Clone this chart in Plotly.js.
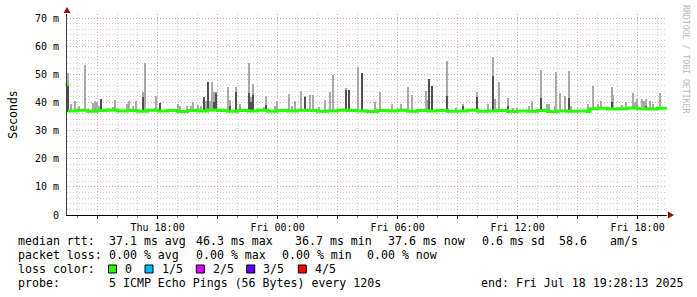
<!DOCTYPE html>
<html><head><meta charset="utf-8">
<script src="https://cdn.plot.ly/plotly-3.0.1.min.js"></script>
<style>html,body{margin:0;padding:0;background:#fff;}#chart{width:697px;height:297px;}</style>
</head><body><div id="chart"></div>
<script>
// ---- data (ms) ----
const medianTimes = [
 "2025-07-17 13:28:13","2025-07-17 13:31","2025-07-17 14:00","2025-07-17 14:30","2025-07-17 15:00","2025-07-17 15:30",
 "2025-07-17 16:00","2025-07-17 16:30","2025-07-17 17:00","2025-07-17 17:30","2025-07-17 18:00","2025-07-17 18:30",
 "2025-07-17 19:00","2025-07-17 19:30","2025-07-17 20:00","2025-07-17 20:30","2025-07-17 21:00","2025-07-17 21:30",
 "2025-07-17 22:00","2025-07-17 22:30","2025-07-17 23:00","2025-07-17 23:30","2025-07-18 00:00","2025-07-18 00:30",
 "2025-07-18 01:00","2025-07-18 01:30","2025-07-18 02:00","2025-07-18 02:30","2025-07-18 03:00","2025-07-18 03:30",
 "2025-07-18 04:00","2025-07-18 04:30","2025-07-18 05:00","2025-07-18 05:30","2025-07-18 06:00","2025-07-18 06:30",
 "2025-07-18 07:00","2025-07-18 07:30","2025-07-18 08:00","2025-07-18 08:30","2025-07-18 09:00","2025-07-18 09:30",
 "2025-07-18 10:00","2025-07-18 10:30","2025-07-18 11:00","2025-07-18 11:30","2025-07-18 12:00","2025-07-18 12:30",
 "2025-07-18 13:00","2025-07-18 13:30","2025-07-18 14:00","2025-07-18 14:30","2025-07-18 15:00","2025-07-18 15:30",
 "2025-07-18 15:37","2025-07-18 16:00","2025-07-18 16:30","2025-07-18 17:00","2025-07-18 17:30","2025-07-18 18:00",
 "2025-07-18 18:30","2025-07-18 19:00","2025-07-18 19:28:13"];
const medianValues = [
 46.3,37.0,37.2,36.9,37.1,37.3,
 37.0,37.1,36.9,37.2,37.0,37.1,
 36.8,37.1,37.0,37.3,37.1,36.9,
 37.1,37.0,37.2,36.9,37.1,37.0,
 37.2,37.1,36.9,37.0,37.2,37.1,
 37.0,36.8,37.1,37.0,37.2,36.9,
 37.1,37.0,37.1,36.9,37.0,37.2,
 36.9,37.0,37.1,36.8,37.0,36.9,
 37.1,36.8,37.0,36.9,37.0,36.8,
 37.8,37.9,37.7,37.8,38.0,37.8,
 37.7,37.9,37.6];

const spikeTimes = [
 "2025-07-17 13:30","2025-07-17 13:40","2025-07-17 13:52","2025-07-17 14:04","2025-07-17 14:22","2025-07-17 14:27",
 "2025-07-17 14:46","2025-07-17 14:52","2025-07-17 14:58","2025-07-17 15:04","2025-07-17 15:11","2025-07-17 15:34",
 "2025-07-17 15:46","2025-07-17 15:52","2025-07-17 16:28","2025-07-17 16:35","2025-07-17 16:46","2025-07-17 16:55",
 "2025-07-17 17:16","2025-07-17 17:22","2025-07-17 17:55","2025-07-17 18:07","2025-07-17 19:01","2025-07-17 19:07",
 "2025-07-17 19:28","2025-07-17 19:40","2025-07-17 19:46","2025-07-17 20:01","2025-07-17 20:10","2025-07-17 20:19",
 "2025-07-17 20:25","2025-07-17 20:31","2025-07-17 20:37","2025-07-17 20:43","2025-07-17 20:50","2025-07-17 20:55",
 "2025-07-17 21:07","2025-07-17 21:31","2025-07-17 21:37","2025-07-17 21:55","2025-07-17 22:07","2025-07-17 22:34",
 "2025-07-17 22:40","2025-07-17 22:46","2025-07-17 23:19","2025-07-17 23:25","2025-07-17 23:52","2025-07-17 23:58",
 "2025-07-18 00:34","2025-07-18 00:43","2025-07-18 00:52","2025-07-18 01:10","2025-07-18 01:22","2025-07-18 01:37",
 "2025-07-18 01:46","2025-07-18 02:04","2025-07-18 02:22","2025-07-18 02:37","2025-07-18 02:46","2025-07-18 03:25",
 "2025-07-18 03:34","2025-07-18 04:01","2025-07-18 04:13","2025-07-18 04:52","2025-07-18 05:07","2025-07-18 05:43",
 "2025-07-18 06:10","2025-07-18 06:31","2025-07-18 06:43","2025-07-18 07:25","2025-07-18 07:31","2025-07-18 07:35",
 "2025-07-18 07:43","2025-07-18 08:28","2025-07-18 08:55","2025-07-18 09:16","2025-07-18 09:58","2025-07-18 10:31",
 "2025-07-18 10:46","2025-07-18 10:52","2025-07-18 11:04","2025-07-18 11:32","2025-07-18 11:46","2025-07-18 11:58",
 "2025-07-18 12:34","2025-07-18 12:43","2025-07-18 13:10","2025-07-18 13:28","2025-07-18 13:34","2025-07-18 13:52",
 "2025-07-18 13:55","2025-07-18 14:07","2025-07-18 14:22","2025-07-18 14:34","2025-07-18 14:40","2025-07-18 15:32",
 "2025-07-18 15:46","2025-07-18 16:01","2025-07-18 16:10","2025-07-18 16:40","2025-07-18 16:43","2025-07-18 16:47",
 "2025-07-18 17:13","2025-07-18 17:25","2025-07-18 17:46","2025-07-18 17:52","2025-07-18 17:58","2025-07-18 18:13",
 "2025-07-18 18:20","2025-07-18 18:26","2025-07-18 18:37","2025-07-18 18:46","2025-07-18 19:07","2025-07-18 19:14"];
const spikeMax = [
 50.3,39.4,40.5,38.8,53.3,37.8,
 39.9,40.5,40.2,38.8,41.4,37.8,
 38.3,40.9,39.4,40.5,38.8,40.5,
 43.8,53.9,42.4,39.9,39.6,38.9,
 38.8,38.8,40.2,39.0,38.8,42.0,
 40.5,47.3,40.5,47.3,43.8,43.8,
 37.8,45.6,40.9,45.6,39.4,54.1,
 42.0,46.6,38.3,42.2,38.6,40.6,
 42.9,38.8,40.5,44.1,42.2,42.6,
 42.6,38.3,40.9,43.8,49.8,45.3,
 44.6,52.7,50.5,40.2,43.8,39.6,
 39.4,45.6,42.6,44.1,40.9,48.2,
 45.7,54.7,37.9,39.6,43.8,39.4,
 56.3,41.2,47.1,41.6,38.0,38.0,
 38.6,40.6,51.5,39.4,39.6,38.8,
 50.9,43.3,42.2,51.2,38.8,39.6,
 46.0,39.4,40.5,38.5,45.6,42.6,
 39.2,40.2,43.3,40.0,41.1,41.1,
 40.5,41.2,40.5,39.4,43.3,38.3];
const spikeDark = [
 46.3,null,null,null,null,null,
 null,null,null,null,41.4,null,
 null,null,null,null,null,null,
 42.0,null,null,39.9,null,null,
 null,null,null,null,null,42.0,
 null,47.3,null,null,40.0,43.2,
 null,null,38.8,43.8,null,43.5,
 40.2,42.7,null,39.0,null,null,
 null,null,null,null,42.0,null,
 null,null,null,null,null,44.4,
 44.6,null,50.3,null,null,null,
 null,null,null,null,null,48.2,
 45.7,42.2,null,38.8,41.8,null,
 49.5,null,null,38.8,null,null,
 null,null,41.7,null,null,null,
 null,null,null,41.7,null,null,
 null,null,null,null,40.0,null,
 null,null,null,null,null,null,
 null,38.6,null,null,null,null];

const yTickVals = [0,10,20,30,40,50,60,70];
const yTickText = ["0","10 m","20 m","30 m","40 m","50 m","60 m","70 m"];
const xTickVals = ["2025-07-17 15:00","2025-07-17 18:00","2025-07-17 21:00","2025-07-18 00:00","2025-07-18 03:00",
                   "2025-07-18 06:00","2025-07-18 09:00","2025-07-18 12:00","2025-07-18 15:00","2025-07-18 18:00"];
const xTickText = ["","Thu 18:00","","Fri 00:00","","Fri 06:00","","Fri 12:00","","Fri 18:00"];

const lossLabels = ["0","1/5","2/5","3/5","4/5"];
const lossColors = ["#26ff00","#00b8ff","#dd00ff","#5e00ff","#ff0000"];

const legendRow1 = ["median rtt:","37.1 ms avg","46.3 ms max","36.7 ms min","37.6 ms now","0.6 ms sd","58.6","am/s"];
const legendRow2 = ["packet loss:","0.00 % avg","0.00 % max","0.00 % min","0.00 % now"];
const legendRow3Head = "loss color:";
const legendRow4 = ["probe:","5 ICMP Echo Pings (56 Bytes) every 120s","end: Fri Jul 18 19:28:13 2025"];

// ---- geometry ----
const L = 67, T = 14, W = 600, H = 201;
const px = x => (x - L) / W;
const py = y => (T + H - y) / H;
const MONO = "DejaVu Sans Mono";

const toMs = s => Date.parse(s.replace(" ", "T"));
const medMs = medianTimes.map(toMs);
function medianAt(s) {
  const t = toMs(s); let v = medianValues[1];
  for (let i = 1; i < medMs.length; i++) { if (medMs[i] <= t) v = medianValues[i]; }
  return v;
}
const base = spikeTimes.map(s => medianAt(s) - 0.4);

const lightTrace = {
  type: "bar", x: spikeTimes, base: base,
  y: spikeMax.map((v, i) => v - base[i]),
  width: spikeTimes.map(() => 360000),
  marker: {color: "#a9a9a9", line: {width: 0}}, hoverinfo: "skip"
};
const darkIdx = spikeDark.map((v, i) => v === null ? -1 : i).filter(i => i >= 0);
const darkTrace = {
  type: "bar", x: darkIdx.map(i => spikeTimes[i]), base: darkIdx.map(i => base[i]),
  y: darkIdx.map(i => spikeDark[i] - base[i]),
  width: darkIdx.map(() => 360000),
  marker: {color: "#505050", line: {width: 0}}, hoverinfo: "skip"
};
const medianLine = {
  type: "scatter", mode: "lines", x: medianTimes.slice(1), y: medianValues.slice(1),
  line: {color: "#26ff00", width: 3, shape: "hv"}, hoverinfo: "skip"
};
const medianFirst = {
  type: "scatter", mode: "markers", x: [medianTimes[0]], y: [medianValues[0]],
  marker: {color: "#26ff00", size: 3, symbol: "square"}, hoverinfo: "skip", cliponaxis: false
};

// ---- legend annotations ----
const ann = [];
const addText = (text, x, y, opts = {}) => ann.push(Object.assign({
  text: text, xref: "paper", yref: "paper", x: px(x), y: py(y),
  xanchor: "left", yanchor: "middle", showarrow: false,
  font: {family: MONO, size: 11.6, color: "#000"}
}, opts));
const row1X = [16, 107, 194, 293, 385.5, 480, 557, 608];
legendRow1.forEach((t, i) => addText(t, row1X[i], 241));
const row2X = [16, 107, 193.5, 279.5, 365];
legendRow2.forEach((t, i) => addText(t, row2X[i], 255));
addText(legendRow3Head, 16, 269);
const boxX = [108.5, 145, 196.3, 246.7, 298.3];
const shapes = [];
lossLabels.forEach((t, i) => {
  shapes.push({type: "rect", xref: "paper", yref: "paper",
    x0: px(boxX[i]), x1: px(boxX[i] + 8), y0: py(273), y1: py(265),
    fillcolor: lossColors[i], line: {color: "#000", width: 1}});
  addText(t, boxX[i] + 14.5, 269);
});
const row4X = [16, 107, 479];
legendRow4.forEach((t, i) => addText(t, row4X[i], 283));
ann.push({text: "RRDTOOL / TOBI OETIKER", xref: "paper", yref: "paper", x: px(686), y: py(59),
  xanchor: "center", yanchor: "middle", showarrow: false, textangle: 90,
  font: {family: MONO, size: 8.2, color: "#b8b8b8"}});

// axis arrows
shapes.push({type: "path", xref: "paper", yref: "paper", xsizemode: "pixel", ysizemode: "pixel",
  xanchor: 0, yanchor: 1, path: "M-3.5,1 L3.5,1 L0,7 Z", fillcolor: "#901010", line: {width: 0}});
shapes.push({type: "path", xref: "paper", yref: "paper", xsizemode: "pixel", ysizemode: "pixel",
  xanchor: 1, yanchor: 0, path: "M1,-3.5 L1,3.5 L7,0 Z", fillcolor: "#901010", line: {width: 0}});

const layout = {
  width: 697, height: 297,
  margin: {l: L, r: 697 - L - W, t: T, b: 297 - T - H, pad: 0},
  paper_bgcolor: "#fff", plot_bgcolor: "#fff",
  showlegend: false, barmode: "overlay", bargap: 0, hovermode: false,
  font: {family: MONO, size: 10, color: "#000"},
  xaxis: {
    type: "date", range: ["2025-07-17 13:28:13", "2025-07-18 19:28:13"],
    tickmode: "array", tickvals: xTickVals, ticktext: xTickText,
    showgrid: true, gridcolor: "rgba(235,110,110,0.45)", griddash: "1px,2px", gridwidth: 1,
    minor: {dtick: 3600000, tick0: "2025-07-17 00:00", showgrid: true, gridcolor: "rgba(160,160,160,0.5)",
            griddash: "1px,2px", ticks: "outside", ticklen: 2, tickcolor: "#888"},
    ticks: "outside", ticklen: 3, tickcolor: "#000",
    showline: true, linecolor: "#000", linewidth: 1, zeroline: false,
    tickfont: {family: MONO, size: 10, color: "#000"}, fixedrange: true
  },
  yaxis: {
    range: [0, 71.43], tickmode: "array", tickvals: yTickVals, ticktext: yTickText,
    showgrid: true, gridcolor: "rgba(235,110,110,0.45)", griddash: "1px,2px", gridwidth: 1,
    minor: {dtick: 2, showgrid: true, gridcolor: "rgba(160,160,160,0.5)", griddash: "1px,2px"},
    ticks: "", ticklabelstandoff: 5,
    showline: true, linecolor: "#404040", linewidth: 1, zeroline: false,
    tickfont: {family: MONO, size: 10, color: "#000"},
    title: {text: "Seconds", font: {family: MONO, size: 11.5, color: "#000"}, standoff: 14},
    automargin: false, fixedrange: true
  },
  annotations: ann, shapes: shapes
};

Plotly.newPlot("chart", [lightTrace, darkTrace, medianLine, medianFirst], layout,
  {staticPlot: true, displayModeBar: false});
</script></body></html>
